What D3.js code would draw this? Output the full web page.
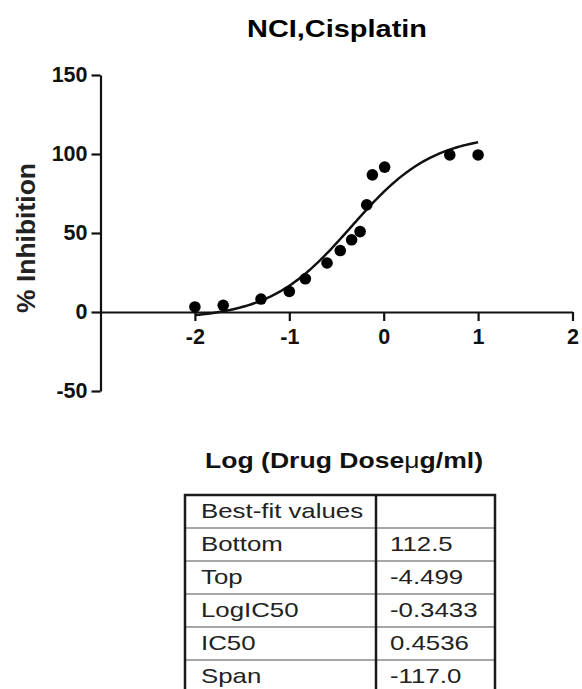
<!DOCTYPE html>
<html>
<head>
<meta charset="utf-8">
<script src="https://cdn.jsdelivr.net/npm/d3@7/dist/d3.min.js"></script>
<style>
  html, body { margin: 0; padding: 0; background: #fff; }
  svg { display: block; font-family: "Liberation Sans", Arial, sans-serif; }
</style>
</head>
<body>
<svg id="chart" width="582" height="689"></svg>
<script>
// Measured responses: log10 dose (µg/ml) and % inhibition
const logDose    = [-2.0, -1.7, -1.3, -1.0, -0.83, -0.6, -0.46, -0.34, -0.25, -0.18, -0.12, 0.01, 0.7, 1.0];
const inhibition = [3.2, 4.2, 8.2, 13.0, 21.0, 31.0, 38.9, 45.7, 50.9, 67.8, 86.8, 91.7, 99.4, 99.4];

// Best-fit parameters (log(inhibitor) vs. response)
const fitLabels = ["Bottom", "Top", "LogIC50", "IC50", "Span"];
const fitValues = ["112.5", "-4.499", "-0.3433", "0.4536", "-117.0"];

const xTicks = [-2, -1, 0, 1, 2];
const yTicks = [-50, 0, 50, 100, 150];

const svg = d3.select("#chart");
svg.append("rect").attr("width", 582).attr("height", 689).attr("fill", "#fff");

const x = d3.scaleLinear().domain([-3, 2]).range([100.5, 572.5]);
const y = d3.scaleLinear().domain([-50, 150]).range([391, 75]);

// Title
svg.append("text")
  .attr("x", 337).attr("y", 37)
  .attr("text-anchor", "middle")
  .attr("font-size", 24).attr("font-weight", "bold")
  .attr("textLength", 180).attr("lengthAdjust", "spacingAndGlyphs")
  .text("NCI,Cisplatin");

// Y axis
const yAxis = svg.append("g")
  .attr("transform", `translate(${x(-3)},0)`)
  .call(d3.axisLeft(y).tickValues(yTicks).tickSize(9).tickSizeOuter(0).tickPadding(4)
        .tickFormat(d => String(d)));

// X axis through zero
const xAxis = svg.append("g")
  .attr("transform", `translate(0,${y(0)})`)
  .call(d3.axisBottom(x).tickValues(xTicks).tickSize(9).tickSizeOuter(0).tickPadding(8)
        .tickFormat(d => String(d)));

[yAxis, xAxis].forEach(g => {
  g.selectAll("path, line").attr("stroke", "#111").attr("stroke-width", 2.2);
  g.selectAll("text").attr("fill", "#111").attr("font-size", 21.5).attr("font-weight", "bold")
    .attr("font-family", "Liberation Sans, Arial, sans-serif");
});

// Axis titles
svg.append("text")
  .attr("transform", "translate(35,238) rotate(-90)")
  .attr("text-anchor", "middle")
  .attr("font-size", 26).attr("font-weight", "bold").attr("fill", "#222")
  .attr("textLength", 150).attr("lengthAdjust", "spacingAndGlyphs")
  .text("% Inhibition");

const xTitle = svg.append("text")
  .attr("x", 344).attr("y", 468)
  .attr("text-anchor", "middle")
  .attr("font-size", 22).attr("font-weight", "bold").attr("fill", "#111")
  .attr("textLength", 278).attr("lengthAdjust", "spacingAndGlyphs");
xTitle.append("tspan").text("Log (Drug Dose");
xTitle.append("tspan").attr("font-weight", "normal").text("\u03bc");
xTitle.append("tspan").text("g/ml)");

// Fitted curve from the best-fit parameters
const bottom = +fitValues[0];
const logIC50 = +fitValues[2];
const span = +fitValues[4];
const model = xv => bottom + span / (1 + Math.pow(10, xv - logIC50));
const curveX = d3.range(d3.min(logDose), d3.max(logDose) + 1e-9, 0.02);
svg.append("path")
  .datum(curveX)
  .attr("fill", "none").attr("stroke", "#111").attr("stroke-width", 2.5)
  .attr("d", d3.line().x(d => x(d)).y(d => y(model(d))).curve(d3.curveBasis));

// Data points
svg.append("g").selectAll("circle")
  .data(logDose.map((d, i) => [d, inhibition[i]]))
  .join("circle")
  .attr("cx", d => x(d[0])).attr("cy", d => y(d[1]))
  .attr("r", 5.8).attr("fill", "#000");

// Best-fit values table
const tLeft = 185, tMid = 376, tRight = 495, tTop = 495, rowH = 33;
const rows = [["Best-fit values", ""]].concat(fitLabels.map((l, i) => [l, fitValues[i]]));
const table = svg.append("g");
rows.forEach((r, i) => {
  const top = tTop + i * rowH;
  if (i > 0) {
    table.append("line")
      .attr("x1", tLeft).attr("x2", tRight).attr("y1", top).attr("y2", top)
      .attr("stroke", "#8a8a8a").attr("stroke-width", 1.5);
  }
  table.append("text")
    .attr("transform", `translate(${tLeft + 16},${top + 23}) scale(1.23,1)`)
    .attr("font-size", 21).attr("fill", "#222").text(r[0]);
  table.append("text")
    .attr("transform", `translate(${tMid + 14},${top + 23}) scale(1.23,1)`)
    .attr("font-size", 21).attr("fill", "#222").text(r[1]);
});
const lastLine = tTop + rows.length * rowH;
table.append("line")
  .attr("x1", tLeft).attr("x2", tRight).attr("y1", lastLine).attr("y2", lastLine)
  .attr("stroke", "#8a8a8a").attr("stroke-width", 1.5);
table.append("path")
  .attr("d", `M${tLeft},689V${tTop}H${tRight}V689M${tMid},${tTop}V689`)
  .attr("fill", "none").attr("stroke", "#1a1a1a").attr("stroke-width", 2.5);
</script>
</body>
</html>
